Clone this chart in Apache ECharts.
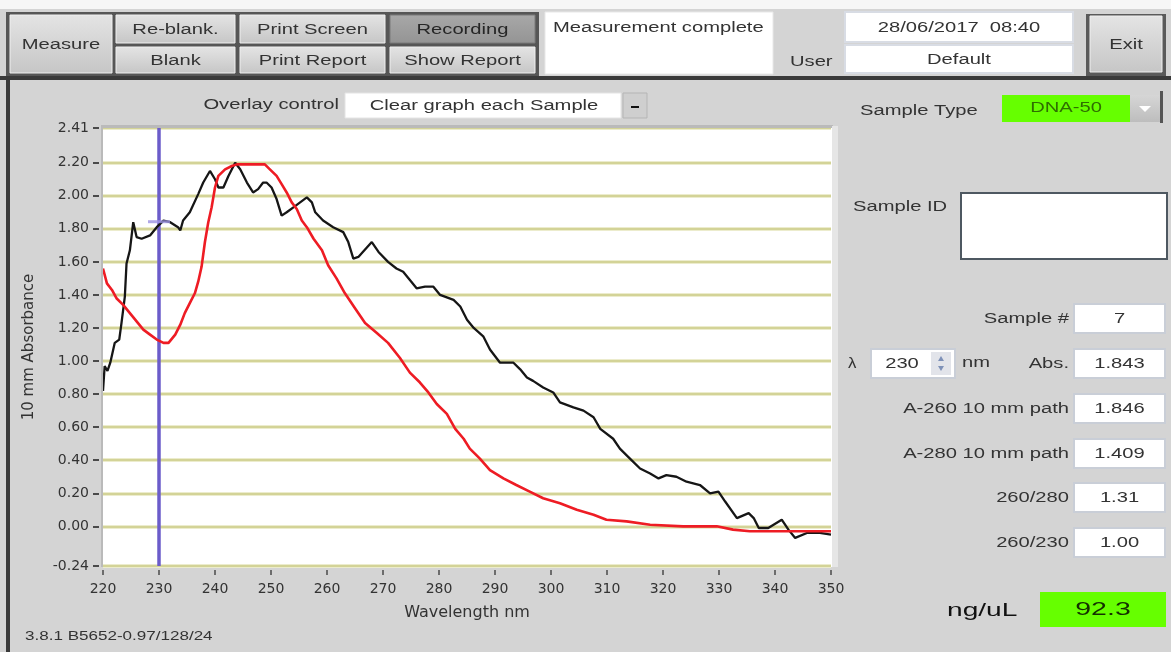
<!DOCTYPE html>
<html>
<head>
<meta charset="utf-8">
<title>Spectrum</title>
<script src="https://cdn.jsdelivr.net/npm/echarts@6/dist/echarts.min.js"></script>
<style>
  html, body { margin: 0; padding: 0; background: #d4d4d4; }
  #main { width: 1171px; height: 652px; }
</style>
</head>
<body>
<div id="main"></div>
<script>
// Measured sample spectrum (nm, 10 mm absorbance)
const sampleWavelength = [220.0, 220.3, 220.8, 221.3, 222.1, 222.9, 223.3, 223.9, 224.2, 224.8, 225.4, 226.0, 226.9, 228.4, 229.6, 230.8, 232.0, 233.4, 233.8, 234.3, 235.5, 237.0, 237.9, 239.1, 240.0, 240.6, 241.5, 242.4, 243.6, 244.5, 245.7, 246.8, 247.7, 248.6, 249.2, 250.1, 251.0, 251.9, 252.8, 254.0, 255.2, 256.4, 257.3, 257.9, 259.3, 261.1, 262.9, 263.8, 264.7, 265.6, 268.0, 269.2, 270.9, 272.4, 273.6, 274.8, 276.0, 277.5, 279.0, 280.2, 282.6, 283.8, 285.0, 286.2, 287.9, 289.1, 290.9, 293.3, 294.5, 295.7, 296.8, 298.6, 300.4, 301.6, 304.0, 305.8, 307.6, 308.8, 311.1, 312.3, 314.1, 315.9, 317.7, 319.2, 320.6, 322.4, 324.2, 326.6, 328.4, 329.9, 331.1, 333.2, 335.3, 336.2, 337.1, 338.8, 341.2, 342.4, 343.6, 345.7, 348.0, 350.0];
const sampleAbsorbance = [0.82, 0.97, 0.94, 0.99, 1.11, 1.13, 1.23, 1.39, 1.59, 1.67, 1.84, 1.75, 1.74, 1.76, 1.81, 1.85, 1.84, 1.81, 1.79, 1.85, 1.90, 2.01, 2.08, 2.15, 2.10, 2.05, 2.05, 2.12, 2.20, 2.16, 2.08, 2.02, 2.04, 2.08, 2.08, 2.05, 1.98, 1.88, 1.90, 1.93, 1.96, 1.99, 1.96, 1.90, 1.85, 1.81, 1.78, 1.72, 1.62, 1.63, 1.72, 1.66, 1.60, 1.56, 1.54, 1.49, 1.44, 1.45, 1.45, 1.40, 1.37, 1.33, 1.25, 1.20, 1.15, 1.07, 0.99, 0.99, 0.95, 0.90, 0.88, 0.84, 0.81, 0.75, 0.72, 0.70, 0.66, 0.59, 0.53, 0.47, 0.41, 0.35, 0.32, 0.29, 0.31, 0.30, 0.27, 0.25, 0.20, 0.21, 0.15, 0.05, 0.08, 0.05, -0.01, -0.01, 0.04, -0.02, -0.07, -0.04, -0.04, -0.05];

// Reference DNA-50 curve
const referenceWavelength = [220.0, 220.7, 221.6, 222.4, 223.6, 224.8, 226.0, 227.2, 228.4, 229.6, 230.8, 231.7, 232.9, 233.8, 234.6, 235.5, 236.4, 237.0, 237.6, 238.2, 238.8, 239.4, 240.0, 240.6, 241.8, 243.0, 243.9, 246.3, 248.9, 249.8, 251.0, 251.9, 252.8, 253.7, 254.6, 255.5, 256.4, 257.6, 259.1, 260.2, 261.7, 263.2, 265.0, 266.8, 268.9, 270.9, 273.0, 274.8, 276.6, 278.1, 279.6, 281.4, 282.9, 284.4, 285.5, 287.3, 289.1, 291.5, 293.8, 296.2, 298.6, 301.6, 304.6, 307.6, 309.9, 313.5, 317.7, 323.6, 329.6, 332.5, 335.5, 344.5, 350.0];
const referenceAbsorbance = [1.56, 1.47, 1.43, 1.38, 1.34, 1.29, 1.24, 1.19, 1.16, 1.13, 1.11, 1.11, 1.16, 1.22, 1.29, 1.35, 1.41, 1.48, 1.57, 1.72, 1.84, 1.93, 2.05, 2.12, 2.16, 2.18, 2.19, 2.19, 2.19, 2.16, 2.12, 2.07, 2.02, 1.96, 1.92, 1.85, 1.81, 1.74, 1.67, 1.58, 1.50, 1.41, 1.32, 1.23, 1.17, 1.11, 1.02, 0.93, 0.87, 0.81, 0.74, 0.68, 0.59, 0.53, 0.47, 0.41, 0.34, 0.29, 0.25, 0.21, 0.17, 0.14, 0.10, 0.07, 0.04, 0.03, 0.01, 0.00, 0.00, -0.02, -0.03, -0.03, -0.03];

// Axis setup
const wavelengthMin = 220;
const wavelengthMax = 350;
const wavelengthStep = 10;
const absorbanceTicks = [-0.24, 0.00, 0.20, 0.40, 0.60, 0.80, 1.00, 1.20, 1.40, 1.60, 1.80, 2.00, 2.20, 2.41];

// Cursor position and its reading
const cursorWavelength = 230;
const cursorAbsorbance = 1.843;

// Result panel
const readoutLabels = ['Sample #', 'Abs.', 'A-260 10 mm path', 'A-280 10 mm path', '260/280', '260/230'];
const readoutValues = ['7', '1.843', '1.846', '1.409', '1.31', '1.00'];
const concentration = '92.3';

const zip = (xs, ys) => xs.map((x, i) => [x, ys[i]]);

const UI_FONT = '"Liberation Sans", Arial, sans-serif';
const AXIS_FONT = '"DejaVu Sans", "Liberation Sans", sans-serif';
const SX = 1.44;

function txt(text, x, y, o = {}) {
  const align = o.align || 'left';
  return {
    type: 'text', x, y, z: 20, silent: true,
    scaleX: o.sx || SX,
    style: {
      text,
      fill: o.color || '#333333',
      font: (o.weight || 'normal') + ' ' + (o.size || 14) + 'px ' + UI_FONT,
      align, textAlign: align,
      verticalAlign: 'middle', textVerticalAlign: 'middle'
    }
  };
}
function box(x, y, w, h, fill, stroke, lw, z) {
  return {
    type: 'rect', silent: true, z: z == null ? 5 : z,
    shape: { x, y, width: w, height: h },
    style: { fill, stroke: stroke || null, lineWidth: lw || 0 }
  };
}
function vgrad(top, bottom) {
  return { type: 'linear', x: 0, y: 0, x2: 0, y2: 1,
    colorStops: [{ offset: 0, color: top }, { offset: 1, color: bottom }] };
}
function button(x, y, w, h, label, pressed) {
  return [
    box(x, y, w, h, pressed ? vgrad('#a8a8a8', '#949494') : vgrad('#e4e4e4', '#c6c6c6'), pressed ? '#7a7a7a' : '#f0f0f0', 1, 6),
    txt(label, x + w / 2, y + h / 2 + 1, { align: 'center', color: pressed ? '#262626' : '#333333' })
  ];
}
function field(x, y, w, h, value, opt = {}) {
  return [
    box(x, y, w, h, '#ffffff', opt.stroke || '#c9ced7', opt.lw || 2, 6),
    txt(value, opt.cx != null ? opt.cx : x + w / 2, y + h / 2 + 1, { align: 'center' })
  ];
}

const g = [];
// window chrome
g.push(box(0, 0, 1171, 9, '#f6f6f6', null, 0, 1));
g.push(box(6, 12, 533, 64, '#565656', null, 0, 2));
g.push(...button(10, 15, 102, 58, 'Measure'));
g.push(...button(116, 15, 119, 28, 'Re-blank.'));
g.push(...button(116, 47, 119, 26, 'Blank'));
g.push(...button(240, 15, 145, 28, 'Print Screen'));
g.push(...button(240, 47, 145, 26, 'Print Report'));
g.push(...button(390, 15, 145, 28, 'Recording', true));
g.push(...button(390, 47, 145, 26, 'Show Report'));

g.push(box(545, 12, 228, 62, '#ffffff', '#e8e8e8', 1, 4));
g.push(txt('Measurement complete', 553, 28));
g.push(txt('User', 790, 62));
g.push(...field(845, 12, 228, 30, '28/06/2017  08:40', { stroke: '#d8dce4' }));
g.push(...field(845, 45, 228, 28, 'Default', { stroke: '#d8dce4' }));
g.push(box(1086, 14, 80, 62, '#5a5a5a', null, 0, 4));
g.push(...button(1090, 16, 72, 56, 'Exit'));

g.push(box(0, 76, 1171, 4, '#3a3a3a', null, 0, 3));
g.push(box(6, 76, 4, 576, '#3a3a3a', null, 0, 3));

// plot frame
g.push(box(103, 126, 730, 441, '#ffffff', null, 0, 0));
g.push(box(101, 125, 732, 3, '#bababa', null, 0, 6));
g.push(box(101, 125, 2, 442, '#bababa', null, 0, 6));
g.push(box(832, 126, 6, 441, '#e6e6e6', null, 0, 6));

// overlay control
g.push(txt('Overlay control', 339, 105, { align: 'right' }));
g.push(box(345, 93, 276, 25, '#ffffff', '#e4e4e4', 1, 6));
g.push(txt('Clear graph each Sample', 484, 106, { align: 'center' }));
g.push(box(623, 93, 24, 25, '#cfcfcf', '#b5b5b5', 1, 6));
g.push(box(631, 106, 8, 2, '#111111', null, 0, 7));

// sample type
g.push(txt('Sample Type', 860, 111));
g.push(box(1002, 95, 128, 27, '#66ff00', null, 0, 6));
g.push(txt('DNA-50', 1066, 108, { align: 'center', color: '#2f6f00' }));
g.push(box(1130, 95, 33, 27, vgrad('#d6d6d6', '#bdbdbd'), null, 0, 6));
g.push(box(1160, 91, 3, 32, '#555555', null, 0, 7));
g.push({ type: 'polygon', z: 8, silent: true, shape: { points: [[1139, 106], [1151, 106], [1145, 112]] }, style: { fill: '#ffffff' } });

// sample id
g.push(txt('Sample ID', 853, 207));
g.push(box(961, 193, 206, 66, '#ffffff', '#4e5861', 2, 6));

// readouts
const rowY = [304, 349, 394, 439, 483, 528];
readoutLabels.forEach((lab, i) => {
  g.push(txt(lab, 1069, rowY[i] + 15, { align: 'right' }));
  g.push(...field(1074, rowY[i], 91, 29, readoutValues[i]));
});
g.push(txt('\u03bb', 848, 364, { sx: 1.2 }));
g.push(...field(871, 349, 84, 29, String(cursorWavelength), { cx: 902 }));
g.push(box(931, 352, 20, 23, '#e2e4ea', null, 0, 7));
g.push({ type: 'polygon', z: 8, silent: true, shape: { points: [[938, 361], [944, 361], [941, 356]] }, style: { fill: '#7e91b8' } });
g.push({ type: 'polygon', z: 8, silent: true, shape: { points: [[938, 366], [944, 366], [941, 371]] }, style: { fill: '#7e91b8' } });
g.push(txt('nm', 962, 363));

g.push(txt('ng/uL', 947, 611, { size: 19, sx: 1.48, color: '#111111' }));
g.push(box(1040, 592, 126, 35, '#66ff00', null, 0, 6));
g.push(txt(concentration, 1103, 610, { size: 19, sx: 1.5, align: 'center', color: '#143000' }));

g.push(txt('3.8.1 B5652-0.97/128/24', 25, 637, { size: 12, sx: 1.42 }));

const chart = echarts.init(document.getElementById('main'), null, { renderer: 'canvas' });

chart.setOption({
  backgroundColor: '#d4d4d4',
  animation: false,
  graphic: { elements: g },
  grid: { left: 103, right: 340, top: 128, bottom: 86, containLabel: false },
  xAxis: {
    type: 'value',
    min: wavelengthMin, max: wavelengthMax, interval: wavelengthStep,
    offset: 4,
    name: 'Wavelength nm', nameLocation: 'middle', nameGap: 35,
    nameTextStyle: { fontFamily: AXIS_FONT, fontSize: 16, color: '#333333' },
    axisLine: { show: false, onZero: false },
    axisTick: { show: true, length: 5, lineStyle: { color: '#4a4a4a', width: 1.5 } },
    axisLabel: { margin: 12, fontFamily: AXIS_FONT, fontSize: 14, color: '#333333' },
    splitLine: { show: false }
  },
  yAxis: {
    type: 'value',
    min: absorbanceTicks[0], max: absorbanceTicks[absorbanceTicks.length - 1],
    offset: 4,
    name: '10 mm Absorbance', nameLocation: 'middle', nameGap: 62,
    nameTextStyle: { fontFamily: AXIS_FONT, fontSize: 15, color: '#333333' },
    axisLine: { show: false, onZero: false },
    axisTick: { show: true, length: 6, customValues: absorbanceTicks, lineStyle: { color: '#4a4a4a', width: 2 } },
    axisLabel: { margin: 10, customValues: absorbanceTicks, fontFamily: AXIS_FONT, fontSize: 14, color: '#333333',
      formatter: v => v.toFixed(2) },
    splitLine: { show: false }
  },
  series: [
    {
      // horizontal gridlines, soft outer band
      type: 'line', data: [], silent: true, z: 1,
      markLine: { z: 1, silent: true, symbol: ['none', 'none'], label: { show: false },
        lineStyle: { color: '#ececcd', width: 4, type: 'solid' },
        emphasis: { disabled: true },
        data: absorbanceTicks.map(v => ({ yAxis: v })) }
    },
    {
      // horizontal gridlines, core
      type: 'line', data: [], silent: true, z: 1,
      markLine: { z: 1, silent: true, symbol: ['none', 'none'], label: { show: false },
        lineStyle: { color: '#d3d397', width: 2, type: 'solid' },
        emphasis: { disabled: true },
        data: absorbanceTicks.map(v => ({ yAxis: v })) }
    },
    {
      // wavelength cursor
      type: 'line', data: [], silent: true, z: 2,
      markLine: { z: 2, silent: true, symbol: ['none', 'none'], label: { show: false },
        lineStyle: { color: '#6b5cca', width: 3.5, type: 'solid' },
        emphasis: { disabled: true },
        data: [{ xAxis: cursorWavelength }] }
    },
    {
      name: 'Sample', type: 'line', z: 3, silent: true,
      data: zip(sampleWavelength, sampleAbsorbance),
      showSymbol: false, smooth: false,
      lineStyle: { color: '#161616', width: 2.3 }
    },
    {
      name: 'Reference', type: 'line', z: 3, silent: true,
      data: zip(referenceWavelength, referenceAbsorbance),
      showSymbol: false, smooth: false,
      lineStyle: { color: '#ee1c24', width: 2.6 }
    },
    {
      name: 'Cursor', type: 'scatter', z: 4, silent: true,
      data: [[cursorWavelength, cursorAbsorbance]],
      symbol: 'rect', symbolSize: [22, 3],
      itemStyle: { color: '#9c92e2' }
    }
  ]
});
</script>
</body>
</html>
